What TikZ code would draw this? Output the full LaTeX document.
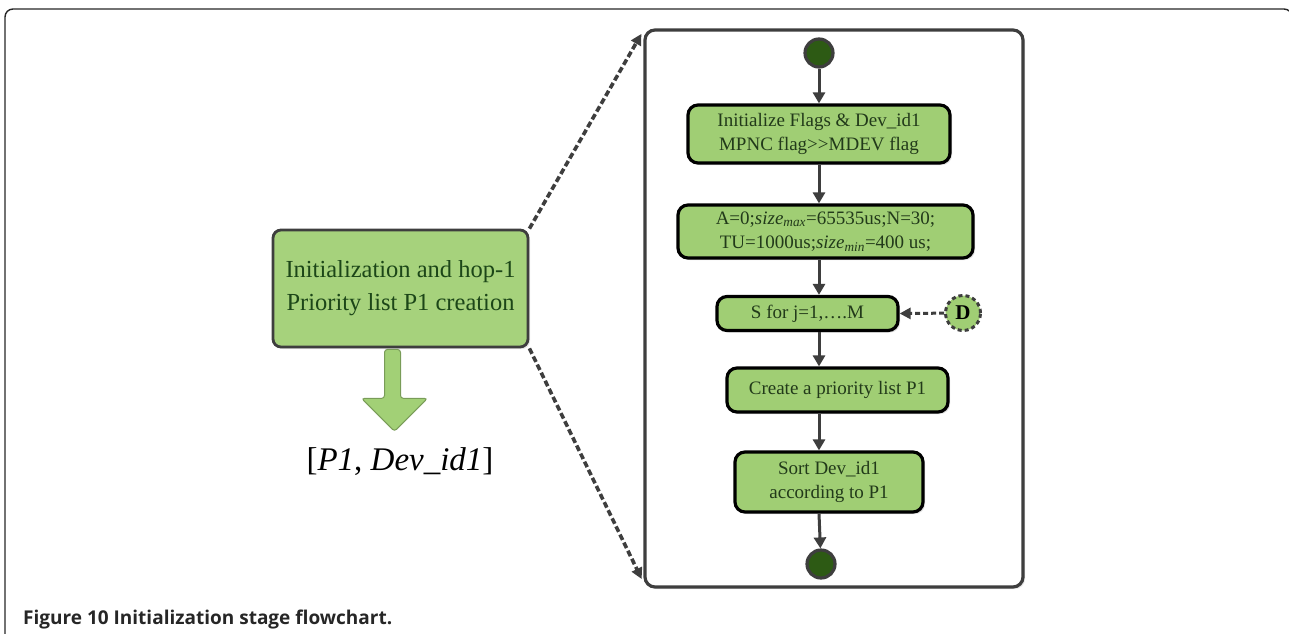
\documentclass[tikz,border=0pt]{standalone}
\usepackage{fontspec}
\setmainfont{Liberation Serif}
\newfontfamily\capfont{Open Sans}
\usetikzlibrary{arrows.meta,shadows}

\definecolor{boxgreen}{RGB}{160,206,116}
\definecolor{leftgreen}{RGB}{166,210,124}
\definecolor{darkline}{RGB}{62,62,62}
\definecolor{dotgreen}{RGB}{45,90,20}
\definecolor{textgreen}{RGB}{28,70,24}
\definecolor{flowtext}{RGB}{34,58,26}
\definecolor{arrowgreen}{RGB}{162,208,118}

\tikzset{
  flowbox/.style={draw=black, line width=3.2pt, rounded corners=10pt, fill=boxgreen,
    align=center, inner sep=0pt, text=flowtext, font=\fontsize{19}{24}\selectfont,
    drop shadow={shadow xshift=2pt, shadow yshift=-2pt, opacity=0.25}},
  termdot/.style={circle, draw=darkline, line width=3.2pt, fill=dotgreen,
    minimum size=28pt, inner sep=0pt},
  flowarrow/.style={draw=darkline, line width=3pt,
    -{Triangle[width=12pt,length=11pt]}},
  linkarrow/.style={draw=darkline, line width=3.6pt, dash pattern=on 6pt off 3pt,
    -{Triangle[width=11pt,length=11pt]}},
  panelbox/.style={draw=darkline, line width=3.2pt, rounded corners=10pt, fill=white,
    drop shadow={shadow xshift=2pt, shadow yshift=-2pt, opacity=0.2}},
}

\begin{document}
\begin{tikzpicture}[x=1pt,y=-1pt]
\useasboundingbox (0,0) rectangle (1289,633);

% page frame
\draw[line width=1.4pt, black!85, rounded corners=8pt]
  (5,640) -- (5,9) -- (1292,9) -- (1292,40);

% caption
\node[anchor=base west, inner sep=0pt, font=\capfont\bfseries\fontsize{19}{22}\selectfont,
  text=black!85] (caption) at (23,624) {Figure 10 Initialization stage flowchart.};

% expanded panel
\node[panelbox, minimum width=378pt, minimum height=557pt, inner sep=0pt]
  (panel) at (834,308.5) {};

% overview box on the left
\node[draw=darkline, line width=2.8pt, rounded corners=8pt, fill=leftgreen,
  minimum width=255pt, minimum height=117pt, inner sep=0pt, align=center,
  text=textgreen, font=\fontsize{24.5}{33}\selectfont,
  drop shadow={shadow xshift=2pt, shadow yshift=-2pt, opacity=0.2}]
  (overview) at (400.5,288.5) {Initialization and hop-1\\Priority list P1 creation};

% result of the stage
\node[font=\fontsize{33}{38}\selectfont, inner sep=0pt] (result) at (400,462)
  {[\textit{P1}, \textit{Dev\_id1}]};

% broad arrow from the overview box down to its result
\coordinate (bt) at (overview.south);
\filldraw[fill=arrowgreen, draw=arrowgreen!75!black, line width=1pt, rounded corners=3pt]
  ([xshift=-16pt,yshift=-1pt]bt) -- ([xshift=-16pt,yshift=-50pt]bt) -- ([xshift=-39pt,yshift=-50pt]bt)
  -- ([xshift=-6pt,yshift=-83pt]bt) -- ([xshift=27pt,yshift=-50pt]bt)
  -- ([xshift=0pt,yshift=-50pt]bt) -- ([xshift=0pt,yshift=-1pt]bt) -- cycle;

% links from the overview box to the detailed panel
\draw[linkarrow, shorten >=4pt] (overview.north east) -- ([yshift=-2pt]panel.north west);
\draw[linkarrow, shorten >=4pt] (overview.south east) -- ([yshift=6pt]panel.south west);

% flowchart inside the panel
\node[termdot] (start) at (819,53) {};
\node[flowbox, minimum width=262pt, minimum height=58pt] (init) at (819,134)
  {Initialize Flags \& Dev\_id1\\MPNC flag>{}>MDEV flag};
\node[flowbox, minimum width=295pt, minimum height=53pt] (params) at (825.5,231.5)
  {A=0;\textit{size}\textsubscript{\textit{max}}=65535us;N=30;\\
   TU=1000us;\textit{size}\textsubscript{\textit{min}}=400 us;};
\node[flowbox, minimum width=181pt, minimum height=34pt] (loop) at (807.5,313.5)
  {S for j=1,….M};
\node[flowbox, minimum width=221pt, minimum height=44pt] (plist) at (837.5,390)
  {Create a priority list P1};
\node[flowbox, minimum width=188pt, minimum height=60pt] (sortdev) at (829,482)
  {Sort Dev\_id1\\according to P1};
\node[termdot] (stop) at (821,564) {};

% connector D
\node[circle, draw=darkline, line width=3pt, dash pattern=on 4pt off 3pt,
  fill=boxgreen, minimum size=35pt, inner sep=0pt, text=black,
  font=\bfseries\fontsize{21}{24}\selectfont] (conn) at (963,313) {D};

% flow arrows
\draw[flowarrow] (start) -- (init.north -| start);
\draw[flowarrow] (init.south -| start) -- (params.north -| start);
\draw[flowarrow] (params.south -| start) -- (loop.north -| start);
\draw[flowarrow] (loop.south -| start) -- (plist.north -| start);
\draw[flowarrow] (plist.south -| start) -- (sortdev.north -| start);
\draw[flowarrow] (sortdev.south -| start) -- (stop);
\draw[linkarrow, line width=3pt, dash pattern=on 5pt off 3pt] (conn) -- (loop.east);
\end{tikzpicture}
\end{document}
